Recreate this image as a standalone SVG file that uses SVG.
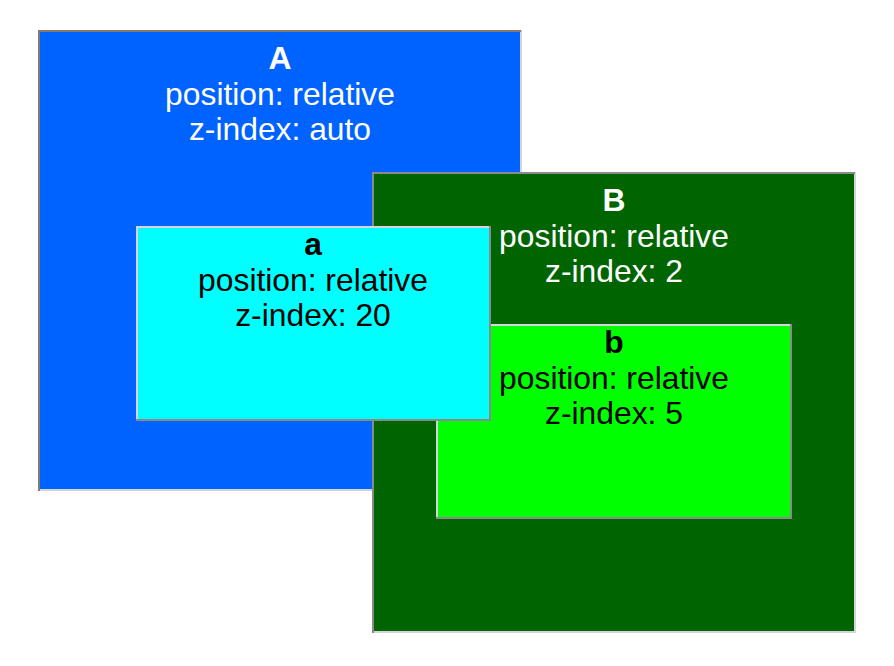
<svg xmlns="http://www.w3.org/2000/svg" width="894" height="666" viewBox="0 0 894 666">
<style>
text{font-family:"Liberation Sans",Arial,sans-serif;font-size:31.8px;text-anchor:middle}
.t{font-weight:bold}
.w{fill:#ffffff}
.k{fill:#000000}
.dk{stroke:#857a6c;stroke-width:2;fill:none}
.lt{stroke:#d4d4dc;stroke-width:2;fill:none}
.dg{stroke:#8a8a8a;stroke-width:2;fill:none}
</style>
<rect width="894" height="666" fill="#ffffff"/>
<g id="nodeA">
<rect x="38" y="30" width="483" height="461" fill="#0063ff"/>
<path class="lt" d="M38 490 H521 V30"/>
<path class="dk" d="M39 491 V31 H521"/>
<text class="w t" x="280" y="69">A</text>
<text class="w" x="280" y="105">position: relative</text>
<text class="w" x="280" y="140">z-index: auto</text>
</g>
<g id="nodeB">
<rect x="372" y="172" width="484" height="461" fill="#006400"/>
<path class="lt" d="M372 632 H855 V172"/>
<path class="dg" d="M373 633 V173 H855"/>
<text class="w t" x="614" y="211">B</text>
<text class="w" x="614" y="247">position: relative</text>
<text class="w" x="614" y="282">z-index: 2</text>
</g>
<g id="nodeb">
<rect x="436" y="324" width="356" height="195" fill="#00ff00"/>
<path class="lt" d="M437 519 V325 H792"/>
<path class="dg" d="M436 518 H791 V324"/>
<text class="k t" x="614" y="353">b</text>
<text class="k" x="614" y="389">position: relative</text>
<text class="k" x="614" y="424">z-index: 5</text>
</g>
<g id="nodea">
<rect x="136" y="226" width="355" height="195" fill="#00ffff"/>
<path class="lt" d="M137 421 V227 H491"/>
<path class="dg" d="M136 420 H490 V226"/>
<text class="k t" x="313" y="255">a</text>
<text class="k" x="313" y="291">position: relative</text>
<text class="k" x="313" y="326">z-index: 20</text>
</g>
<g id="connectors"></g>
</svg>
